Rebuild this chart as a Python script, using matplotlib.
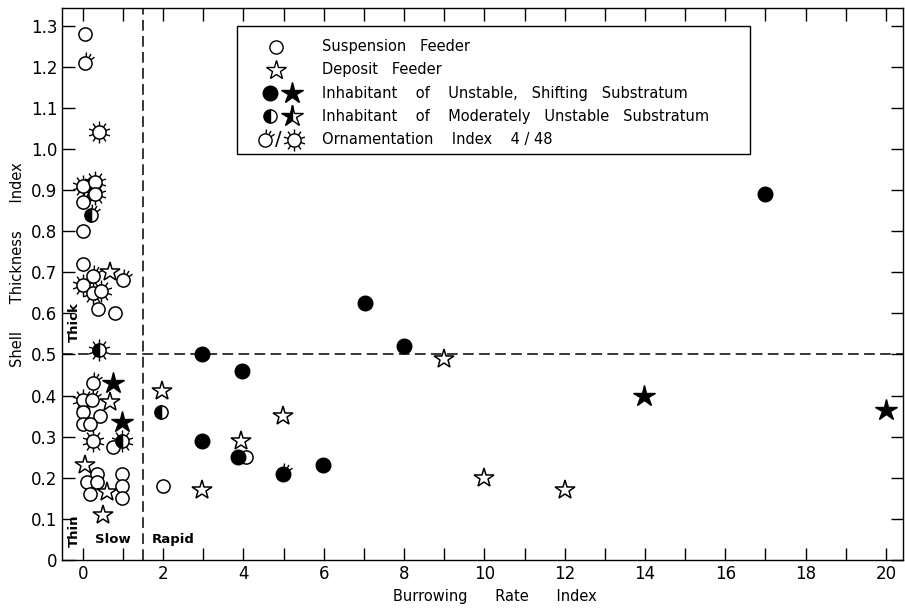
import matplotlib
matplotlib.use("Agg")
import matplotlib.pyplot as plt
import numpy as np
from matplotlib.path import Path
from matplotlib.patches import Rectangle
from matplotlib.ticker import FuncFormatter

# --- data (x = burrowing rate index, y = shell thickness index) ---
# ornament code: 0 = none, 1 = index 4 (few spines), 2 = index 48 (spines all round)
susp_x = [0.05, 0.05, 0.4, 0.0, 0.3, 0.3, 0.0, 0.0, 0.0, 0.25, 1.0, 0.0, 0.25, 0.45,
          0.37, 0.8, 0.25, 0.0, 0.22, 0.0, 0.42, 0.0, 0.17, 0.25, 0.75, 0.35, 0.1,
          0.35, 0.97, 0.97, 0.97, 0.17, 2.0, 4.06]
susp_y = [1.28, 1.21, 1.04, 0.91, 0.92, 0.89, 0.87, 0.80, 0.72, 0.69, 0.68, 0.67, 0.65, 0.655,
          0.61, 0.60, 0.43, 0.39, 0.39, 0.36, 0.35, 0.33, 0.33, 0.29, 0.275, 0.21, 0.19,
          0.19, 0.21, 0.18, 0.15, 0.16, 0.18, 0.25]
susp_orn = [0, 1, 2, 2, 2, 2, 1, 0, 0, 1, 1, 2, 2, 2,
            0, 0, 1, 2, 1, 0, 0, 0, 0, 2, 0, 0, 0,
            0, 0, 0, 0, 0, 0, 0]

# suspension feeders, moderately unstable substratum
half_x = [0.2, 0.4, 0.97, 1.94]
half_y = [0.84, 0.51, 0.29, 0.36]
half_orn = [1, 2, 2, 0]

# suspension feeders, unstable shifting substratum
filled_x = [2.96, 2.96, 3.96, 3.86, 4.98, 5.98, 7.02, 8.0, 17.0]
filled_y = [0.50, 0.29, 0.46, 0.25, 0.21, 0.23, 0.625, 0.52, 0.89]
filled_orn = [0, 0, 0, 0, 1, 0, 0, 0, 0]

# deposit feeders
dep_x = [0.67, 0.67, 0.05, 0.6, 0.5, 1.97, 2.96, 3.94, 4.98, 9.0, 10.0, 12.0]
dep_y = [0.70, 0.385, 0.23, 0.165, 0.11, 0.41, 0.17, 0.29, 0.35, 0.49, 0.20, 0.17]

# deposit feeders, unstable shifting substratum
dep_fill_x = [0.75, 0.97, 13.97, 20.0]
dep_fill_y = [0.43, 0.335, 0.40, 0.365]

legend_rows = ["Suspension   Feeder",
               "Deposit   Feeder",
               "Inhabitant    of    Unstable,   Shifting   Substratum",
               "Inhabitant    of    Moderately   Unstable   Substratum",
               "Ornamentation    Index    4 / 48"]


def spikes(angles, r_in=0.6):
    verts = [(1, 0)]
    codes = [Path.MOVETO]
    for a in np.radians(angles):
        verts += [(r_in * np.cos(a), r_in * np.sin(a)), (np.cos(a), np.sin(a))]
        codes += [Path.MOVETO, Path.LINETO]
    return Path(verts, codes)


FEW = spikes([35, 60, 85])
SUN = spikes(np.arange(0, 360, 36) + 18)
CIRC_MS = 9.5
SPK_MS = CIRC_MS / 0.6


def ornament(ax, x, y, code, z=3):
    if code == 0:
        return
    m = FEW if code == 1 else SUN
    ax.plot(x, y, marker=m, ms=SPK_MS, color="black", mew=1.0, ls="none", zorder=z)


plt.rcParams["font.family"] = ["DejaVu Sans"]
fig = plt.figure(figsize=(9.05, 6.10), dpi=100)
ax = fig.add_axes([0.0685, 0.082, 0.929, 0.905])

ax.axvline(1.5, color="black", lw=1.1, ls=(0, (7, 3.5)), zorder=1)
ax.axhline(0.5, color="black", lw=1.1, ls=(0, (7, 3.5)), zorder=1)

for x, y, o in zip(susp_x, susp_y, susp_orn):
    ornament(ax, x, y, o)
    ax.plot(x, y, "o", ms=CIRC_MS, mfc="white", mec="black", mew=1.1, zorder=4)
for x, y, o in zip(half_x, half_y, half_orn):
    ornament(ax, x, y, o)
    ax.plot(x, y, "o", ms=CIRC_MS, fillstyle="left", mfc="black", mfcalt="white",
            mec="black", mew=1.1, zorder=4)
for x, y, o in zip(filled_x, filled_y, filled_orn):
    ornament(ax, x, y, o)
    ax.plot(x, y, "o", ms=CIRC_MS + 1, color="black", zorder=4)

ax.plot(dep_x, dep_y, "*", ms=15, mfc="white", mec="black", mew=1.1, ls="none", zorder=4)
ax.plot(dep_fill_x, dep_fill_y, "*", ms=16, color="black", ls="none", zorder=4)

# legend box
ax.add_patch(Rectangle((3.84, 0.988), 12.77, 0.312, fill=False, ec="black", lw=1.0, zorder=5))
row_y = [1.248, 1.192, 1.136, 1.080, 1.022]
for ty, txt in zip(row_y, legend_rows):
    ax.text(5.95, ty, txt, fontsize=10.5, va="center", ha="left", zorder=6)
ax.plot(4.8, row_y[0], "o", ms=CIRC_MS, mfc="white", mec="black", mew=1.0, zorder=6)
ax.plot(4.8, row_y[1], "*", ms=15, mfc="white", mec="black", mew=1.0, zorder=6)
ax.plot(4.66, row_y[2], "o", ms=CIRC_MS + 1, color="black", zorder=6)
ax.plot(5.2, row_y[2], "*", ms=16, color="black", zorder=6)
ax.plot(4.66, row_y[3], "o", ms=CIRC_MS, fillstyle="left", mfc="black", mfcalt="white",
        mec="black", mew=1.0, zorder=6)
ax.plot(5.2, row_y[3], "*", ms=16, fillstyle="left", mfc="black", mfcalt="white",
        mec="black", mew=1.0, zorder=6)
ax.plot(4.53, row_y[4], marker=FEW, ms=SPK_MS, color="black", zorder=6)
ax.plot(4.53, row_y[4], "o", ms=CIRC_MS, mfc="white", mec="black", mew=1.0, zorder=6)
ax.text(4.88, row_y[4], "/", fontsize=14, va="center", ha="center", zorder=6)
ax.plot(5.25, row_y[4], marker=SUN, ms=SPK_MS, color="black", zorder=6)
ax.plot(5.25, row_y[4], "o", ms=CIRC_MS, mfc="white", mec="black", mew=1.0, zorder=6)

# region labels
ax.text(-0.22, 0.58, "Thick", rotation=90, fontsize=9.5, fontweight="bold",
        ha="center", va="center")
ax.text(-0.22, 0.07, "Thin", rotation=90, fontsize=9.5, fontweight="bold",
        ha="center", va="center")
ax.text(0.75, 0.05, "Slow", fontsize=9.5, fontweight="bold", ha="center", va="center")
ax.text(2.25, 0.05, "Rapid", fontsize=9.5, fontweight="bold", ha="center", va="center")

ax.set_xlim(-0.52, 20.42)
ax.set_ylim(0, 1.343)
ax.set_xticks(np.arange(0, 21, 2))
ax.set_xticks(np.arange(0, 21, 1), minor=True)
ax.set_yticks(np.arange(0, 1.31, 0.1))
ax.yaxis.set_major_formatter(FuncFormatter(lambda v, p: "0" if abs(v) < 1e-9 else f"{v:.1f}"))
ax.tick_params(which="both", direction="in", top=True, right=True, labelsize=12,
               width=1.0, length=9)
for s in ax.spines.values():
    s.set_linewidth(1.0)

ax.set_xlabel("Burrowing      Rate      Index", fontsize=10.5)
ax.xaxis.set_label_coords(0.515, -0.052)
ax.set_ylabel("Shell      Thickness      Index", fontsize=10.5)
ax.yaxis.set_label_coords(-0.044, 0.535)

fig.savefig("out.png", dpi=100)
